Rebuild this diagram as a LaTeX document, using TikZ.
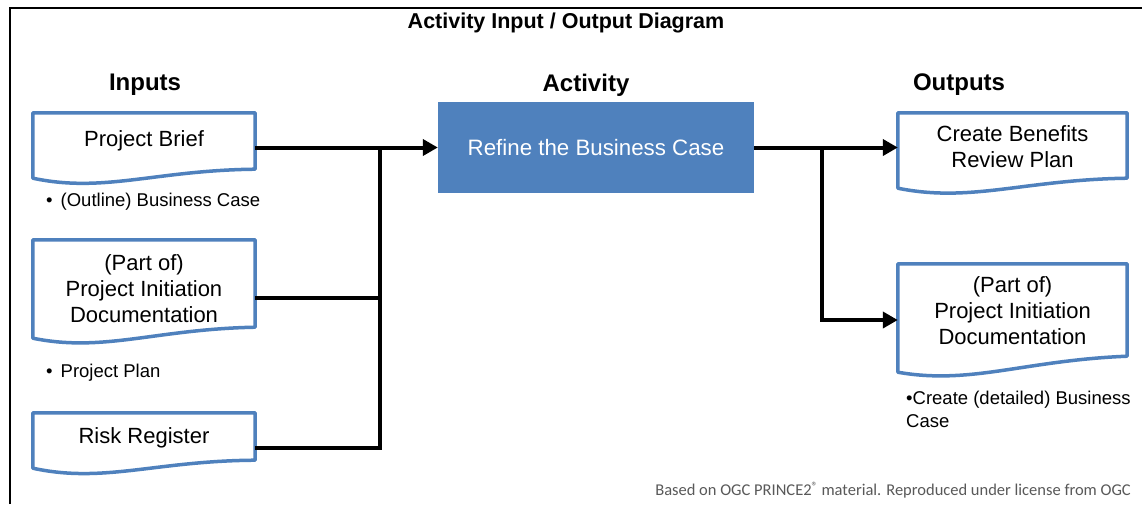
\documentclass[tikz,border=0pt]{standalone}
\usepackage{fontspec}
\setmainfont{Liberation Sans}
\newfontfamily\carlito{Carlito}
\usetikzlibrary{calc,arrows.meta}
\definecolor{docblue}{HTML}{4F81BD}
\definecolor{actblue}{HTML}{4F81BD}
\definecolor{footgray}{HTML}{595959}
\tikzset{
 docbox/.style={rectangle, inner sep=0pt, minimum width=222pt, align=center, font=\fontsize{22}{26}\selectfont},
 docline/.style={draw=docblue, line width=3.5pt, line join=round},
 conn/.style={line width=4pt, line join=miter},
 arr/.style={conn, -{Triangle[length=15pt,width=16pt]}},
 head/.style={font=\fontsize{24}{28}\selectfont\bfseries, inner sep=0pt},
 bulletnote/.style={font=\fontsize{18.5}{23}\selectfont, anchor=west, inner sep=0pt, align=left},
}
\newcommand\docshape[3]{%
 \coordinate (#1-A) at ([yshift={-1pt*(#3)}]#1.south west);
 \coordinate (#1-B) at ([yshift={-1pt*(#2)}]#1.south east);
 \draw[docline] (#1-A) -- (#1.north west) -- (#1.north east) -- (#1-B)
   .. controls ($(#1-A)!0.55!(#1-B)+(0,3pt)$) and ($(#1-A)!0.32!(#1-B)+(0,-18pt)$) .. (#1-A) -- cycle;}
\begin{document}
\begin{tikzpicture}[x=1pt,y=-1pt]
\useasboundingbox[fill=white] (0,0) rectangle (1142,504);
% frame
\draw[line width=2.5pt] (10,504) -- (10,8) -- (1142,8);
% title and headers
\node[font=\fontsize{21.5}{25}\selectfont\bfseries, inner sep=0pt] (title) at (566,23) {Activity Input / Output Diagram};
\node[head] (hin) at (145,85) {Inputs};
\node[head] (hact) at (586,85) {Activity};
\node[head] (hout) at (959,85) {Outputs};
% input documents
\node[docbox, minimum height=56pt] (pb) at (144,141) {Project Brief};
\node[docbox, minimum height=97pt] (pidin) at (144,288.5) {(Part of)\\Project Initiation\\Documentation};
\node[docbox, minimum height=50pt] (risk) at (144,438) {Risk Register};
\docshape{pb}{0}{9}
\docshape{pidin}{-10}{1}
\docshape{risk}{-3}{5}
% output documents
\node[docbox, minimum width=229pt, minimum height=67pt] (cb) at (1012.5,146.5) {Create Benefits\\Review Plan};
\node[docbox, minimum width=229pt, minimum height=93pt] (pidout) at (1012.5,310.5) {(Part of)\\Project Initiation\\Documentation};
\docshape{cb}{-2}{8}
\docshape{pidout}{-1}{15}
% activity
\node[fill=actblue, minimum width=316pt, minimum height=91pt, inner sep=0pt, text=white, font=\fontsize{22.3}{26}\selectfont] (act) at (596,147.5) {Refine the Business Case};
% notes
\node[bulletnote] (n1) at (46,202) {\textbullet\hspace{8pt}(Outline) Business Case};
\node[bulletnote] (n2) at (46,373) {\textbullet\hspace{8pt}Project Plan};
\node[bulletnote, anchor=base west] (n3) at (906,427) {\textbullet Create (detailed) Business\\Case};
% footer
\node[font=\carlito\fontsize{16.5}{18}\selectfont, text=footgray, anchor=base east, inner sep=0pt] (foot) at (1131,495) {Based on OGC PRINCE2\raisebox{5pt}{\fontsize{12}{12}\selectfont ®} material. Reproduced under license from OGC};
% connectors
\coordinate (j1) at (380,147.5);
\coordinate (j2) at (380,298);
\coordinate (j3) at (380,448);
\draw[arr] (pb.east |- act.west) -- (act.west);
\draw[conn] (pidin.east |- j2) -- (j2);
\draw[conn] (risk.east |- j3) -- (j3) -- (j1);
\coordinate (k1) at (822,147.5);
\coordinate (k2) at (822,320);
\draw[arr] (act.east) -- (cb.west |- act.east);
\draw[arr] (k1) -- (k2) -- (pidout.west |- k2);
\end{tikzpicture}
\end{document}
